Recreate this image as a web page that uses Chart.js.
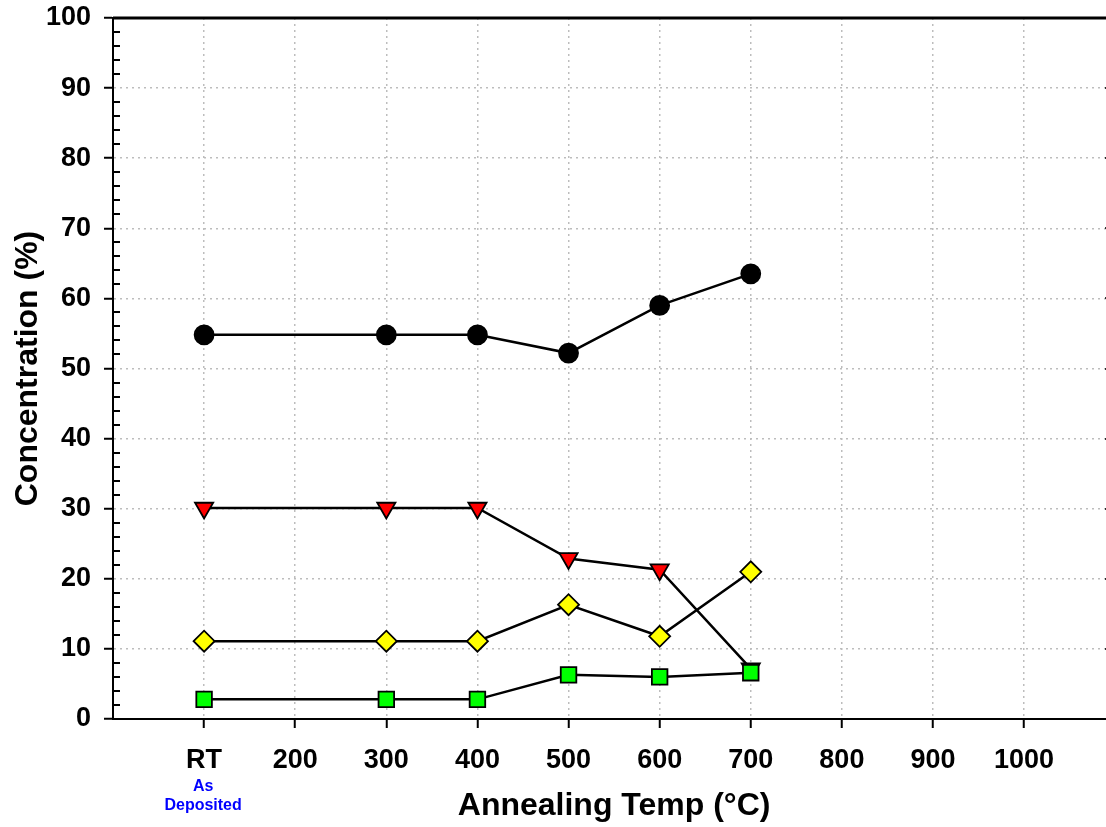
<!DOCTYPE html>
<html>
<head>
<meta charset="utf-8">
<script src="https://cdn.jsdelivr.net/npm/chart.js@4"></script>
<style>
    html, body { margin: 0; padding: 0; overflow: hidden; background: #fff; }
    #wrap { width: 1128px; height: 827px; }
</style>
</head>
<body>
<div id="wrap"><canvas id="chart" width="1128" height="827"></canvas></div>
<script>
// Annealing temperatures (RT is plotted at 100)
const temps = [100, 300, 400, 500, 600, 700];

// Concentration values (%) for each series
const circleVals = [54.8, 54.8, 54.8, 52.2, 59.0, 63.5];
const triangleVals = [30.1, 30.1, 30.1, 22.9, 21.3, 7.2];
const diamondVals = [11.1, 11.1, 11.1, 16.3, 11.8, 21.0];
const squareVals = [2.8, 2.8, 2.8, 6.3, 6.0, 6.6];

// Axis ticks
const xTickValues = [100, 200, 300, 400, 500, 600, 700, 800, 900, 1000];
const xTickLabels = ["RT", "200", "300", "400", "500", "600", "700", "800", "900", "1000"];
const yTickValues = [0, 10, 20, 30, 40, 50, 60, 70, 80, 90, 100];

const FONT = "'Liberation Sans', Arial, sans-serif";

function toPoints(vals) {
    return temps.map((t, i) => ({ x: t, y: vals[i] }));
}

function makeSeries(vals, style, color, radius, order, rotation) {
    return {
        data: toPoints(vals),
        borderColor: "#000",
        borderWidth: 2.5,
        pointStyle: style,
        pointRadius: radius,
        pointHoverRadius: radius,
        pointBackgroundColor: color,
        pointBorderColor: "#000",
        pointBorderWidth: 1.8,
        pointRotation: rotation || 0,
        order: order,
        tension: 0
    };
}

// Extra drawing: minor ticks, right/top frame, "As Deposited" note
const extrasPlugin = {
    id: "extras",
    afterDraw(chart) {
        const ctx = chart.ctx;
        const area = chart.chartArea;
        const y = chart.scales.y;
        const x = chart.scales.x;
        ctx.save();
        ctx.strokeStyle = "#000";
        ctx.setLineDash([]);

        // top and right border
        ctx.lineWidth = 3;
        ctx.beginPath();
        ctx.moveTo(area.left, area.top);
        ctx.lineTo(area.right, area.top);
        ctx.lineTo(area.right, area.bottom);
        ctx.stroke();
        ctx.lineWidth = 2;

        // minor ticks (inside) on left, ticks on right
        for (let v = 0; v <= 100; v += 2) {
            const py = Math.round(y.getPixelForValue(v));
            const major = v % 10 === 0;
            ctx.beginPath();
            if (!major) {
                ctx.moveTo(area.left, py);
                ctx.lineTo(area.left + 7, py);
            }
            ctx.moveTo(area.right, py);
            ctx.lineTo(area.right - (major ? 10 : 6), py);
            ctx.stroke();
        }

        // "As Deposited" under the RT label
        const rx = x.getPixelForValue(100);
        ctx.fillStyle = "#0000ff";
        ctx.font = "bold 16px " + FONT;
        ctx.textAlign = "center";
        ctx.textBaseline = "middle";
        ctx.fillText("As", rx - 1, 787);
        ctx.fillText("Deposited", rx - 1, 806);
        ctx.restore();
    }
};

const ctx = document.getElementById("chart").getContext("2d");

new Chart(ctx, {
    type: "line",
    data: {
        datasets: [
            makeSeries(circleVals, "circle", "#000000", 9.5, 3),
            makeSeries(triangleVals, "triangle", "#ff0000", 10.5, 2, 180),
            makeSeries(diamondVals, "rectRot", "#ffff00", 10.5, 1),
            makeSeries(squareVals, "rect", "#00ff00", 11, 0)
        ]
    },
    options: {
        responsive: false,
        animation: false,
        layout: { padding: { top: 18, right: 6, bottom: 0, left: 0 } },
        plugins: {
            legend: { display: false },
            tooltip: { enabled: false }
        },
        scales: {
            x: {
                type: "linear",
                min: 0,
                max: 1100,
                afterBuildTicks(scale) {
                    scale.ticks = xTickValues.map(v => ({ value: v }));
                },
                afterFit(scale) {
                    scale.height = 108;
                    scale.paddingLeft = 0;
                    scale.paddingRight = 0;
                },
                ticks: {
                    autoSkip: false,
                    maxRotation: 0,
                    padding: 16,
                    color: "#000",
                    font: { family: FONT, size: 27, weight: "bold" },
                    callback(value) {
                        const i = xTickValues.indexOf(value);
                        return i >= 0 ? xTickLabels[i] : "";
                    }
                },
                grid: {
                    color: "#bdbdbd",
                    lineWidth: 1.5,
                    drawTicks: true,
                    tickLength: 9,
                    tickColor: "#000",
                    tickWidth: 2,
                    tickBorderDash: []
                },
                border: { color: "#000", width: 2, dash: [2, 4] },
                title: {
                    display: true,
                    text: "Annealing Temp (°C)",
                    color: "#000",
                    font: { family: FONT, size: 32, weight: "bold", lineHeight: 1.2 },
                    padding: { top: 0, bottom: 2 }
                }
            },
            y: {
                min: 0,
                max: 100,
                afterBuildTicks(scale) {
                    scale.ticks = yTickValues.map(v => ({ value: v }));
                },
                afterFit(scale) {
                    scale.width = 113;
                    scale.paddingTop = 0;
                    scale.paddingBottom = 0;
                },
                ticks: {
                    padding: 13,
                    color: "#000",
                    font: { family: FONT, size: 27, weight: "bold" }
                },
                grid: {
                    color: "#bdbdbd",
                    lineWidth: 1.5,
                    drawTicks: true,
                    tickLength: 9,
                    tickColor: "#000",
                    tickWidth: 2,
                    tickBorderDash: []
                },
                border: { color: "#000", width: 2, dash: [2, 4] },
                title: {
                    display: true,
                    text: "Concentration (%)",
                    color: "#000",
                    font: { family: FONT, size: 32, weight: "bold", lineHeight: 1.2 },
                    padding: { top: 9, bottom: 0 }
                }
            }
        }
    },
    plugins: [extrasPlugin]
});
</script>
</body>
</html>
